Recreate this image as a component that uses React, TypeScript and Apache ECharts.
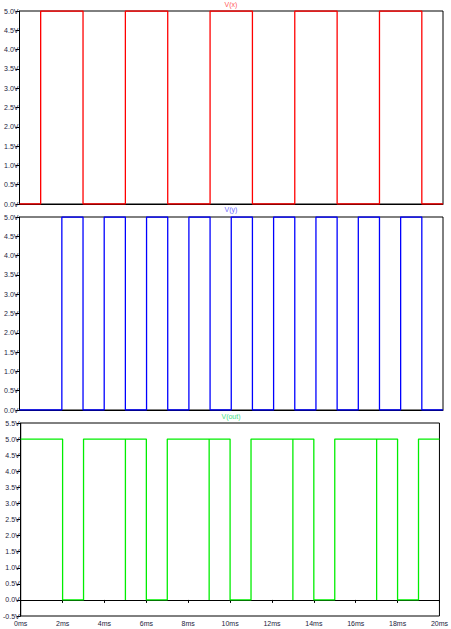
import React, { useEffect, useRef } from "react";
import * as echarts from "echarts";

const vxTime = [0, 1, 1, 3, 3, 5, 5, 7, 7, 9, 9, 11, 11, 13, 13, 15, 15, 17, 17, 19, 19, 20];
const vxVolt = [0, 0, 5, 5, 0, 0, 5, 5, 0, 0, 5, 5, 0, 0, 5, 5, 0, 0, 5, 5, 0, 0];

const vyTime = [0, 2, 2, 3, 3, 4, 4, 5, 5, 6, 6, 7, 7, 8, 8, 9, 9, 10, 10, 11, 11, 12, 12, 13, 13, 14, 14, 15, 15, 16, 16, 17, 17, 18, 18, 19, 19, 20];
const vyVolt = [0, 0, 5, 5, 0, 0, 5, 5, 0, 0, 5, 5, 0, 0, 5, 5, 0, 0, 5, 5, 0, 0, 5, 5, 0, 0, 5, 5, 0, 0, 5, 5, 0, 0, 5, 5, 0, 0];

const voutTime = [0, 2, 2, 3, 3, 5, 5, 5, 6, 6, 7, 7, 9, 9, 9, 10, 10, 11, 11, 13, 13, 13, 14, 14, 15, 15, 17, 17, 17, 18, 18, 19, 19, 20];
const voutVolt = [5, 5, 0, 0, 5, 5, 0, 5, 5, 0, 0, 5, 5, 0, 5, 5, 0, 0, 5, 5, 0, 5, 5, 0, 0, 5, 5, 0, 5, 5, 0, 0, 5, 5];

const traceNames = ["V(x)", "V(y)", "V(out)"];
const traceColors = ["#ff0000", "#0000ff", "#00ee00"];
const titleColors = ["#ff5a5a", "#6a6aff", "#44dd88"];
const yMins = [0, 0, -0.5];
const yMaxs = [5, 5, 5.5];
const xTickMs = 2;

const FONT = "Liberation Sans, Arial, sans-serif";

export default function App() {
  const ref = useRef<HTMLDivElement>(null);
  useEffect(() => {
    if (!ref.current) return;
    const chart = echarts.init(ref.current, undefined, { renderer: "svg" });
    const tops = [11, 217, 423];
    const h = 193;
    const zip = (t: number[], v: number[]) => t.map((x, i) => [x, v[i]]);
    const datas = [zip(vxTime, vxVolt), zip(vyTime, vyVolt), zip(voutTime, voutVolt)];
    const titleY = [4, 209, 416];
    chart.setOption({
      animation: false,
      grid: tops.map((t) => ({
        left: 19.5,
        right: 8,
        top: t,
        height: h,
        show: true,
        borderColor: "#000",
        borderWidth: 1,
        backgroundColor: "transparent",
        z: 0,
      })),
      xAxis: [0, 1, 2].map((i) => ({
        type: "value",
        gridIndex: i,
        min: 0,
        max: 20,
        interval: xTickMs,
        z: 0,
        axisLine: { show: true, lineStyle: { color: "#000", width: 1 } },
        axisTick: { show: i === 2, length: 3, lineStyle: { color: "#000" } },
        axisLabel: {
          show: i === 2,
          fontSize: 7,
          fontFamily: FONT,
          color: "#1c1c3c",
          margin: 4,
          formatter: (v: number) => `${v}ms`,
        },
        splitLine: { show: false },
      })),
      yAxis: [0, 1, 2].map((i) => ({
        type: "value",
        gridIndex: i,
        min: yMins[i],
        max: yMaxs[i],
        interval: 0.5,
        z: 0,
        axisLine: { show: true, lineStyle: { color: "#000", width: 1 } },
        axisTick: { show: true, length: 4, lineStyle: { color: "#000" } },
        axisLabel: {
          fontSize: 7,
          fontFamily: FONT,
          color: "#1c1c3c",
          margin: 1,
          formatter: (v: number) => `${v.toFixed(1)}V`,
        },
        splitLine: { show: false },
      })),
      series: [0, 1, 2].map((i) => ({
        type: "line",
        xAxisIndex: i,
        yAxisIndex: i,
        data: datas[i],
        showSymbol: false,
        symbol: "none",
        lineStyle: { color: traceColors[i], width: 1.3 },
        z: 10,
      })),
      graphic: [0, 1, 2].map((i) => ({
        type: "text",
        x: 231,
        y: titleY[i],
        style: {
          text: traceNames[i],
          fill: titleColors[i],
          font: `7px ${FONT}`,
          align: "center",
          verticalAlign: "middle",
        },
      })),
    });
    return () => chart.dispose();
  }, []);
  return (
    <div
      ref={ref}
      style={{ position: "fixed", left: 0, top: 0, width: 451, height: 629, background: "#fff" }}
    />
  );
}
